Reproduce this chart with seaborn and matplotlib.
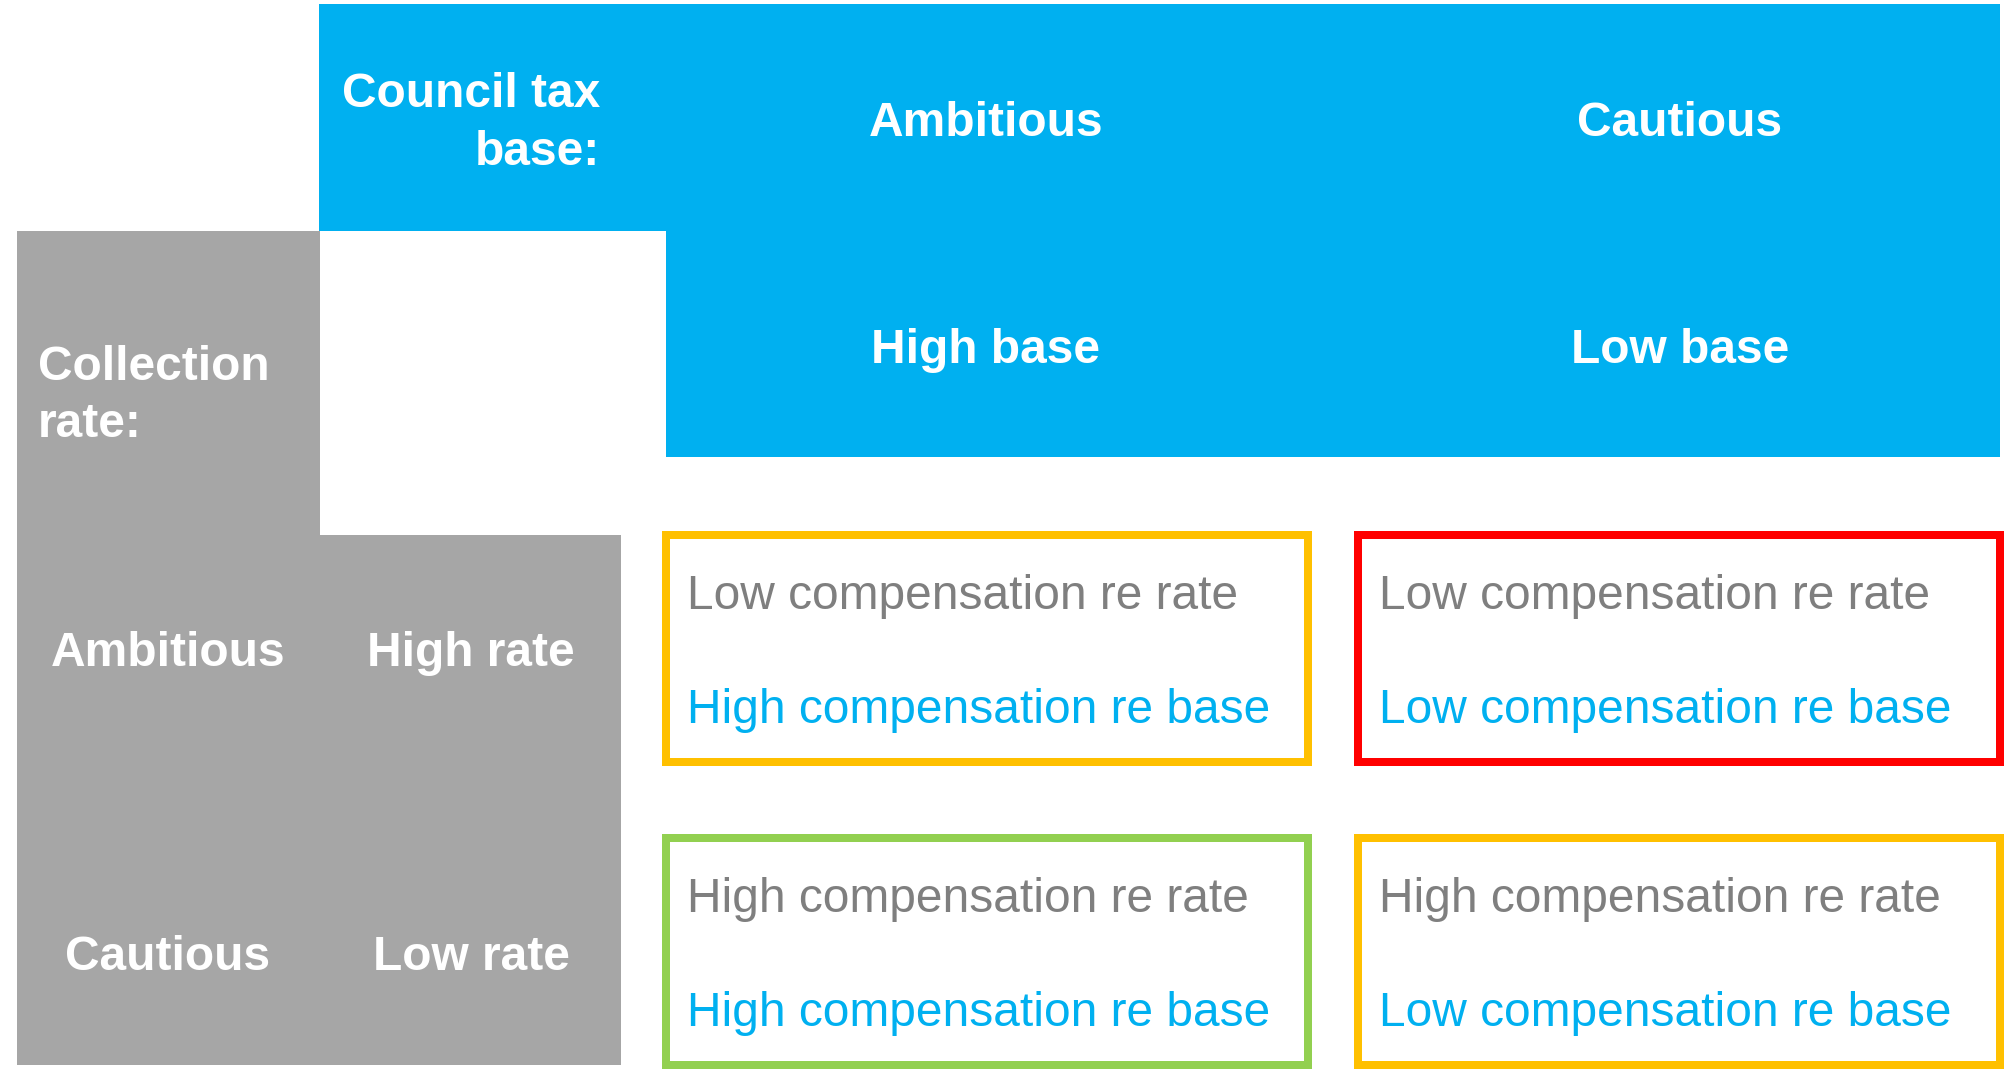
import matplotlib
matplotlib.use('Agg')
import matplotlib.pyplot as plt
from matplotlib.patches import Rectangle
import seaborn as sns

# data
base_scenarios = ['Ambitious', 'Cautious']
base_levels = ['High base', 'Low base']
rate_scenarios = ['Ambitious', 'Cautious']
rate_levels = ['High rate', 'Low rate']
rate_comp = [['Low compensation re rate', 'Low compensation re rate'],
             ['High compensation re rate', 'High compensation re rate']]
base_comp = [['High compensation re base', 'Low compensation re base'],
             ['High compensation re base', 'Low compensation re base']]
verdict = [['mixed', 'bad'],
           ['good', 'mixed']]

sns.set_style('white')
plt.rcParams['font.family'] = ['Liberation Sans', 'DejaVu Sans']

BLUE = '#00B0F0'
GREY = '#A6A6A6'
TXT_GREY = '#7F7F7F'
verdict_colors = {'good': '#92D050', 'mixed': '#FFC000', 'bad': '#FF0000'}

fig = plt.figure(figsize=(20.11, 10.74), dpi=100)
ax = fig.add_axes([0, 0, 1, 1])
ax.set_xlim(0, 2011)
ax.set_ylim(1074, 0)
ax.axis('off')

# layout (pixels)
col_x = [986, 1680]           # centres of the two base columns
box_left = [662, 1354]
box_w = 650
box_top = [531, 834]
box_h = 235
row_label_x = [168, 471]
row_baseline = [666, 970]
lw = 8 * 0.72
fs = 34.5

# blue header block
ax.add_patch(Rectangle((319, 4), 2000 - 319, 227, color=BLUE, lw=0))
ax.add_patch(Rectangle((666, 230), 2000 - 666, 227, color=BLUE, lw=0))
# grey header block
ax.add_patch(Rectangle((17, 231), 320 - 17, 1065 - 231, color=GREY, lw=0))
ax.add_patch(Rectangle((319, 535), 621 - 319, 1065 - 535, color=GREY, lw=0))

bold = dict(color='white', fontsize=fs, fontweight='bold', va='baseline')
ax.text(600, 107, 'Council tax', ha='right', **bold)
ax.text(600, 165, 'base:', ha='right', **bold)
ax.text(38, 380, 'Collection', ha='left', **bold)
ax.text(38, 437, 'rate:', ha='left', **bold)

for j in range(2):
    ax.text(col_x[j], 136, base_scenarios[j], ha='center', **bold)
    ax.text(col_x[j], 363, base_levels[j], ha='center', **bold)

for i in range(2):
    ax.text(row_label_x[0], row_baseline[i], rate_scenarios[i], ha='center', **bold)
    ax.text(row_label_x[1], row_baseline[i], rate_levels[i], ha='center', **bold)

for i in range(2):
    for j in range(2):
        x0 = box_left[j] + 4
        y0 = box_top[i] + 4
        ax.add_patch(Rectangle((x0, y0), box_w - 8, box_h - 8, fill=False,
                               edgecolor=verdict_colors[verdict[i][j]], lw=lw))
        ax.text(box_left[j] + 25, box_top[i] + 78, rate_comp[i][j], color=TXT_GREY,
                fontsize=fs, ha='left', va='baseline')
        ax.text(box_left[j] + 25, box_top[i] + 192, base_comp[i][j], color=BLUE,
                fontsize=fs, ha='left', va='baseline')

fig.savefig('out.png', dpi=100, facecolor='white')
